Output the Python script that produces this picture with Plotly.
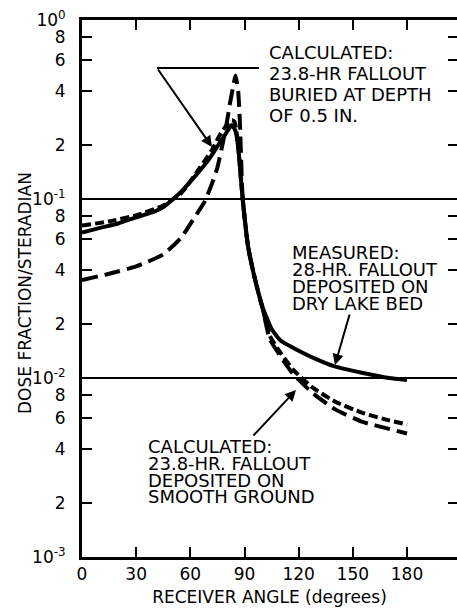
import plotly.graph_objects as go

# Receiver angle (degrees) and dose fraction per steradian for each curve
angle_measured = [0, 10, 20, 30, 40, 45, 50, 55, 60, 65, 70, 75, 80, 83, 85, 86.5, 88, 89,
                  92, 96, 100, 105, 110, 120, 130, 140, 155, 170, 180]
dose_measured = [0.065, 0.069, 0.073, 0.079, 0.085, 0.090, 0.099, 0.110, 0.125, 0.143, 0.165,
                 0.197, 0.235, 0.259, 0.24, 0.195, 0.13, 0.10, 0.054, 0.035, 0.0249, 0.0188,
                 0.0162, 0.0142, 0.0127, 0.0116, 0.0107, 0.0100, 0.00975]

angle_smooth = [0, 15, 30, 45, 55, 62, 68, 72, 75, 78, 80, 82, 84, 85, 86.5, 87.5, 89,
                92, 96, 100, 104, 110, 117, 128, 140, 155, 170, 180]
dose_smooth = [0.0353, 0.0382, 0.0420, 0.049, 0.061, 0.078, 0.097, 0.122, 0.150, 0.206, 0.26,
               0.344, 0.44, 0.49, 0.40, 0.26, 0.10, 0.054, 0.035, 0.0245, 0.0165, 0.0132,
               0.0105, 0.0082, 0.0067, 0.0057, 0.0052, 0.0049]

angle_buried = [0, 15, 30, 45, 55, 65, 72, 76, 80, 83, 84.5, 86, 87.5, 89, 92, 96, 100, 104,
                110, 117, 128, 140, 155, 170, 180]
dose_buried = [0.071, 0.075, 0.081, 0.092, 0.108, 0.148, 0.188, 0.225, 0.258, 0.275, 0.27,
               0.22, 0.15, 0.10, 0.054, 0.035, 0.0245, 0.0172, 0.0138, 0.0111, 0.0088, 0.0074,
               0.0064, 0.0058, 0.0055]

x_ticks = [0, 30, 60, 90, 120, 150, 180]
y_ticks = [1e-3, 2e-3, 4e-3, 6e-3, 8e-3, 1e-2, 2e-2, 4e-2, 6e-2, 8e-2,
           1e-1, 2e-1, 4e-1, 6e-1, 8e-1, 1.0]
y_tick_text = ["10<sup>-3</sup>", "2", "4", "6", "8", "10<sup>-2</sup>", "2", "4", "6", "8",
               "10<sup>-1</sup>", "2", "4", "6", "8", "10<sup>0</sup>"]
y_minor = [v for v, t in zip(y_ticks, y_tick_text) if "sup" not in t]
decade_lines = [1e-1, 1e-2]

FONT = "DejaVu Sans"
W, H = 457, 610
ML, MR, MT, MB = 82, 0, 20, 53
PW, PH = W - ML - MR, H - MT - MB


def px_to_paper(px, py):
    return (px - ML) / PW, (H - MB - py) / PH


fig = go.Figure()

fig.add_trace(go.Scatter(x=angle_smooth, y=dose_smooth, mode="lines",
                         line=dict(color="black", width=4, dash="16px,7px",
                                   shape="spline", smoothing=0.5)))
fig.add_trace(go.Scatter(x=angle_buried, y=dose_buried, mode="lines",
                         line=dict(color="black", width=4, dash="9px,4px",
                                   shape="spline", smoothing=0.5)))
fig.add_trace(go.Scatter(x=angle_measured, y=dose_measured, mode="lines",
                         line=dict(color="black", width=4, shape="spline", smoothing=0.5)))
# empty trace that carries the right-hand tick axis
fig.add_trace(go.Scatter(x=[], y=[], yaxis="y2", mode="lines"))

for v in decade_lines:
    fig.add_hline(y=v, line=dict(color="black", width=2))


# text blocks, one annotation per line for tight lettering
def text_block(lines, left_px, first_center_px, pitch, size):
    for i, s in enumerate(lines):
        xp, yp = px_to_paper(left_px, first_center_px + i * pitch)
        fig.add_annotation(text=s, x=xp, y=yp, xref="paper", yref="paper",
                           xanchor="left", yanchor="middle", showarrow=False,
                           height=int(pitch) - 1, valign="middle", borderpad=0,
                           font=dict(family=FONT, size=size, color="black"))


text_block(["CALCULATED:", "23.8-HR FALLOUT", "BURIED AT DEPTH", "OF 0.5 IN."],
           268, 53, 20.7, 18)
text_block(["MEASURED:", "28-HR. FALLOUT", "DEPOSITED ON", "DRY LAKE BED"],
           291, 252.5, 16.9, 18)
text_block(["CALCULATED:", "23.8-HR. FALLOUT", "DEPOSITED ON", "SMOOTH GROUND"],
           147, 446.5, 16.8, 18)

# rotated y-axis title
tx, ty = px_to_paper(25, 293)
fig.add_annotation(text="DOSE FRACTION/STERADIAN", x=tx, y=ty, xref="paper", yref="paper",
                   xanchor="center", yanchor="middle", textangle=-90, showarrow=False,
                   font=dict(family=FONT, size=17, color="black"))


# leader lines and arrows
def arrow(tail, head):
    hx, hy = px_to_paper(*head)
    fig.add_annotation(x=hx, y=hy, xref="paper", yref="paper", text="",
                       showarrow=True, arrowhead=2, arrowsize=1.1, arrowwidth=2,
                       arrowcolor="black", axref="pixel", ayref="pixel",
                       ax=tail[0] - head[0], ay=tail[1] - head[1])


x0, y0 = px_to_paper(157, 68)
x1, y1 = px_to_paper(259, 68)
fig.add_shape(type="line", xref="paper", yref="paper", x0=x0, y0=y0, x1=x1, y1=y1,
              line=dict(color="black", width=2))
arrow((157, 68), (212, 147))
arrow((350, 313), (335, 365))
arrow((252, 437), (296, 390))

tick_font = dict(family=FONT, size=17, color="black")
fig.update_layout(
    width=W, height=H,
    margin=dict(l=ML, r=MR, t=MT, b=MB),
    paper_bgcolor="white", plot_bgcolor="white",
    showlegend=False,
    font=dict(family=FONT, color="black"),
    xaxis=dict(range=[0, (PW) / ((407 - 82) / 180)], tickvals=x_ticks,
               ticks="inside", ticklen=10, tickwidth=2, tickcolor="black",
               showline=True, linewidth=3, linecolor="black", mirror="ticks",
               showgrid=False, zeroline=False, tickfont=tick_font,
               title=dict(text="RECEIVER ANGLE (degrees)", standoff=8,
                          font=dict(family=FONT, size=17, color="black"))),
    yaxis=dict(type="log", range=[-3, 0], tickvals=y_ticks, ticktext=y_tick_text,
               ticks="inside", ticklen=10, tickwidth=2, tickcolor="black",
               showline=True, linewidth=3, linecolor="black",
               showgrid=False, zeroline=False, tickfont=tick_font,
               ticklabelstandoff=10),
    yaxis2=dict(type="log", range=[-3, 0], overlaying="y", side="right",
                tickvals=y_minor, ticks="inside", ticklen=9, tickwidth=2,
                tickcolor="black", showticklabels=False, showline=False,
                showgrid=False, zeroline=False),
)

fig.write_html("out.html")
